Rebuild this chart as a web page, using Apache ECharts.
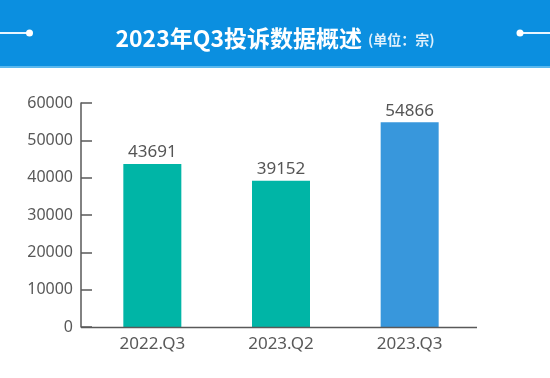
<!DOCTYPE html>
<html><head><meta charset="utf-8">
<script src="https://cdn.jsdelivr.net/npm/echarts@6/dist/echarts.min.js"></script>
<style>html,body{margin:0;padding:0;background:#fff}#c{width:550px;height:378px}</style>
</head><body><div id="c"></div>
<script>
var categories = ['2022.Q3', '2023.Q2', '2023.Q3'];
var values = [43691, 39152, 54866];
var barColors = ['#00b5a6', '#00b5a6', '#3897dc'];
var yTicks = [0, 10000, 20000, 30000, 40000, 50000, 60000];

var chart = echarts.init(document.getElementById('c'), null, {renderer: 'canvas'});
var font = '"Noto Sans", "Noto Sans CJK SC", sans-serif';
chart.setOption({
  animation: false,
  backgroundColor: '#fff',
  graphic: [
    {type: 'rect', left: 0, top: 0, z: -1, shape: {width: 550, height: 66}, style: {fill: '#0b8fe0'}},
    {type: 'rect', left: 0, top: 66, z: -1, shape: {width: 550, height: 2}, style: {fill: '#5ab8ee'}},
    {type: 'line', z: 1, shape: {x1: 0, y1: 33, x2: 29, y2: 33}, style: {stroke: '#e8f5ff', lineWidth: 2}},
    {type: 'circle', z: 1, shape: {cx: 29.5, cy: 33, r: 3.5}, style: {fill: '#ffffff'}},
    {type: 'line', z: 1, shape: {x1: 520, y1: 33, x2: 550, y2: 33}, style: {stroke: '#e8f5ff', lineWidth: 2}},
    {type: 'circle', z: 1, shape: {cx: 520, cy: 33, r: 3.5}, style: {fill: '#ffffff'}},
    {type: 'line', z: 5, shape: {x1: 81, y1: 327.5, x2: 477, y2: 327.5}, style: {stroke: '#595959', lineWidth: 1.5}}
  ],
  title: {
    text: '{a|2023年Q3投诉数据概述}{b|(单位：宗)}',
    left: 'center',
    top: 19,
    textStyle: {
      rich: {
        a: {fontFamily: '"Noto Sans CJK SC", sans-serif', fontSize: 23, fontWeight: 'bold', color: '#ffffff', lineHeight: 28},
        b: {fontFamily: '"Noto Sans CJK SC", sans-serif', fontSize: 14, color: '#dff0fc', lineHeight: 28, padding: [3, 0, 0, 6]}
      }
    }
  },
  grid: {left: 88, right: 76, top: 103, bottom: 51, containLabel: false},
  xAxis: {
    type: 'category',
    data: categories,
    axisLine: {show: false},
    axisTick: {show: false},
    axisLabel: {fontFamily: font, fontSize: 17, color: '#595959', margin: 9}
  },
  yAxis: {
    type: 'value',
    min: 0, max: 60000, interval: 10000,
    offset: 7,
    axisLine: {show: true, lineStyle: {color: '#595959', width: 1.5}},
    axisTick: {show: true, inside: true, length: 11, lineStyle: {color: '#595959', width: 1.5}},
    splitLine: {show: false},
    axisLabel: {fontFamily: font, fontSize: 16, color: '#595959', margin: 8,
      formatter: function (v) { return yTicks.indexOf(v) >= 0 ? String(v) : ''; }}
  },
  series: [{
    type: 'bar',
    barWidth: 58,
    data: values.map(function (v, i) { return {value: v, itemStyle: {color: barColors[i]}}; }),
    label: {show: true, position: 'top', distance: 3, fontFamily: font, fontSize: 17, color: '#555555'}
  }]
});
</script>
</body></html>
